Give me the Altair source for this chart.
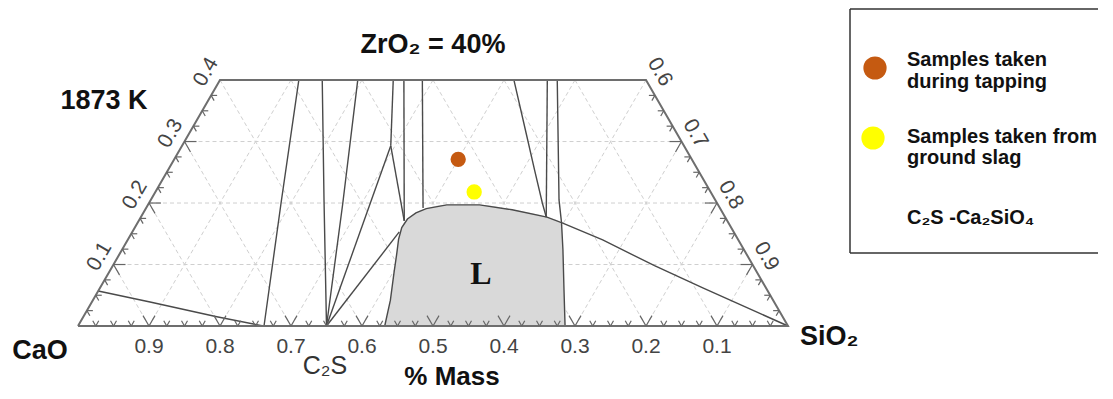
import altair as alt
import numpy as np
import pandas as pd

SQ = np.sqrt(3) / 2

# ---------------- data: phase boundaries as (CaO, ZrO2) mass fractions ----------------
b1_cao = [0.943, 0.879, 0.797, 0.739]
b1_zro2 = [0.057, 0.039, 0.015, 0.000]
b2_cao = [0.738, 0.614, 0.489]
b2_zro2 = [0.000, 0.200, 0.400]
b3_cao = [0.650, 0.551, 0.456]
b3_zro2 = [0.000, 0.205, 0.400]
b4_cao = [0.650, 0.527, 0.406]
b4_zro2 = [0.000, 0.200, 0.400]
b5_cao = [0.650, 0.413]
b5_zro2 = [0.000, 0.293]
b6_cao = [0.413, 0.356]
b6_zro2 = [0.293, 0.400]
b7_cao = [0.413, 0.455]
b7_zro2 = [0.293, 0.171]
b8_cao = [0.341, 0.455]
b8_zro2 = [0.400, 0.171]
b9_cao = [0.650, 0.471]
b9_zro2 = [0.000, 0.153]
b10_cao = [0.315, 0.418]
b10_zro2 = [0.400, 0.192]
b11_cao = [0.186, 0.214, 0.230, 0.246, 0.252]
b11_zro2 = [0.400, 0.307, 0.254, 0.200, 0.177]
b12_cao = [0.139, 0.252]
b12_zro2 = [0.400, 0.177]
b13_cao = [0.125, 0.220, 0.235]
b13_zro2 = [0.400, 0.205, 0.168]
tail_cao = [0.235, 0.191, 0.139, 0.089, 0.000]
tail_zro2 = [0.168, 0.140, 0.098, 0.062, 0.000]
liq_cao = [0.568, 0.539, 0.512, 0.492, 0.478, 0.464, 0.449, 0.432, 0.414, 0.382, 0.336,
           0.294, 0.251, 0.235, 0.255, 0.286, 0.314]
liq_zro2 = [0.000, 0.042, 0.086, 0.118, 0.141, 0.160, 0.174, 0.184, 0.191, 0.197, 0.197,
            0.189, 0.177, 0.168, 0.124, 0.059, 0.000]

# samples
sample_names = ["Samples taken during tapping", "Samples taken from ground slag"]
sample_cao = [0.329, 0.333]
sample_zro2 = [0.271, 0.218]
sample_colors = ["#C55A11", "#FFFF00"]

# axis values
base_ticks = [0.9, 0.8, 0.7, 0.6, 0.5, 0.4, 0.3, 0.2, 0.1]
left_ticks = [0.1, 0.2, 0.3, 0.4]
right_ticks = [0.6, 0.7, 0.8, 0.9]
ZMAX = 0.4


def to_xy(cao, zro2):
    c = np.asarray(cao, dtype=float)
    z = np.asarray(zro2, dtype=float)
    return 1 - c - z / 2, z * SQ


# ---------------- build tables ----------------
curves = {
    "b1": (b1_cao, b1_zro2), "b2": (b2_cao, b2_zro2), "b3": (b3_cao, b3_zro2),
    "b4": (b4_cao, b4_zro2), "b5": (b5_cao, b5_zro2), "b6": (b6_cao, b6_zro2),
    "b7": (b7_cao, b7_zro2), "b8": (b8_cao, b8_zro2), "b9": (b9_cao, b9_zro2),
    "b10": (b10_cao, b10_zro2), "b11": (b11_cao, b11_zro2), "b12": (b12_cao, b12_zro2),
    "b13": (b13_cao, b13_zro2), "tail": (tail_cao, tail_zro2), "liq": (liq_cao, liq_zro2),
}
rows = []
for name, (c, z) in curves.items():
    X, Y = to_xy(c, z)
    for i, (x, y) in enumerate(zip(X, Y)):
        rows.append({"id": name, "i": i, "X": x, "Y": y})
lines_df = pd.DataFrame(rows)

lx, ly = to_xy(liq_cao, liq_zro2)
area_df = pd.DataFrame({"X": lx, "Y": ly, "Y0": 0.0})

oc, oz = [1.0, 0.0, 0.0, 1 - ZMAX, 1.0], [0.0, 0.0, ZMAX, ZMAX, 0.0]
ox, oy = to_xy(oc, oz)
outline_df = pd.DataFrame({"X": ox, "Y": oy, "i": range(len(ox))})

# grid
g = []
for k in range(1, 10):
    v = k / 10
    if v < ZMAX:
        g.append((v / 2, v * SQ, 1 - v / 2, v * SQ))
    zt = min(ZMAX, 1 - v)
    g.append((1 - v, 0, 1 - v - zt / 2, zt * SQ))   # constant CaO
    g.append((v, 0, v + zt / 2, zt * SQ))           # constant SiO2
grid_df = pd.DataFrame(g, columns=["X", "Y", "X2", "Y2"])

# ticks
t = []
for k in range(1, 40):
    v = k * 0.025
    major = abs(v * 10 - round(v * 10)) < 1e-6
    L = (12 if major else 6) / 710
    bx = 1 - v
    t.append((bx, 0, bx - 0.5 * L, SQ * L))
    t.append((bx, 0, bx + 0.5 * L, SQ * L))
    if v < ZMAX - 1e-9:
        px, py = v / 2, v * SQ
        t.append((px, py, px + L, py))
        t.append((px, py, px + 0.5 * L, py - SQ * L))
        px, py = 1 - v / 2, v * SQ
        t.append((px, py, px - L, py))
        t.append((px, py, px - 0.5 * L, py - SQ * L))
ticks_df = pd.DataFrame(t, columns=["X", "Y", "X2", "Y2"])

base_df = pd.DataFrame({"X": [1 - v for v in base_ticks], "Y": 0.0,
                        "t": [f"{v:.1f}" for v in base_ticks]})
off = 16 / 710
left_df = pd.DataFrame({"X": [v / 2 - 0.866 * off for v in left_ticks],
                        "Y": [v * SQ + 0.5 * off for v in left_ticks],
                        "t": [f"{v:.1f}" for v in left_ticks]})
right_df = pd.DataFrame({"X": [(1 + s) / 2 + 0.866 * off for s in right_ticks],
                         "Y": [(1 - s) * SQ + 0.5 * off for s in right_ticks],
                         "t": [f"{v:.1f}" for v in right_ticks]})

sx, sy = to_xy(sample_cao, sample_zro2)
samples_df = pd.DataFrame({"X": sx, "Y": sy, "name": sample_names})

# ---------------- scales ----------------
W, H = 1097, 383
X_MIN = -70 / 710
X_MAX = X_MIN + W / 710
Y_MAX = 318 / 710
Y_MIN = Y_MAX - H / 710
xs = alt.Scale(domain=[X_MIN, X_MAX], nice=False, zero=False)
ys = alt.Scale(domain=[Y_MIN, Y_MAX], nice=False, zero=False)
ex = alt.X("X:Q", scale=xs, axis=None)
ey = alt.Y("Y:Q", scale=ys, axis=None)

FONT = "Liberation Sans"

grid = alt.Chart(grid_df).mark_rule(color="#cfcfcf", strokeWidth=1, strokeDash=[4, 3]).encode(
    x=ex, y=ey, x2="X2:Q", y2="Y2:Q")
area = alt.Chart(area_df).mark_area(color="#d9d9d9", opacity=1, interpolate="monotone").encode(
    x=ex, y=ey, y2="Y0:Q")
lines = alt.Chart(lines_df).mark_line(color="#4a4a4a", strokeWidth=1.4).encode(
    x=ex, y=ey, detail="id:N", order="i:Q")
outline = alt.Chart(outline_df).mark_line(color="#6e6e6e", strokeWidth=2).encode(
    x=ex, y=ey, order="i:Q")
ticks = alt.Chart(ticks_df).mark_rule(color="#666666", strokeWidth=1.2).encode(
    x=ex, y=ey, x2="X2:Q", y2="Y2:Q")
base_lbl = alt.Chart(base_df).mark_text(dy=21, fontSize=21, color="#444444", font=FONT).encode(
    x=ex, y=ey, text="t:N")
left_lbl = alt.Chart(left_df).mark_text(fontSize=21, color="#444444", font=FONT, angle=300).encode(
    x=ex, y=ey, text="t:N")
right_lbl = alt.Chart(right_df).mark_text(fontSize=21, color="#444444", font=FONT, angle=60).encode(
    x=ex, y=ey, text="t:N")
pts = alt.Chart(samples_df).mark_circle(size=235, opacity=1).encode(
    x=ex, y=ey,
    color=alt.Color("name:N", scale=alt.Scale(domain=sample_names, range=sample_colors), legend=None))

one = pd.DataFrame({"a": [0]})


def label(text, x, y, size=27, weight="bold", align="center", color="#111111", font=FONT, baseline="middle"):
    return alt.Chart(one).mark_text(
        text=text, fontSize=size, fontWeight=weight, align=align, color=color, font=font,
        baseline=baseline).encode(x=alt.value(x), y=alt.value(y))


texts = [
    label("ZrO₂ = 40%", 425, 37),
    label("1873 K", 96, 93),
    label("CaO", 32, 343),
    label("SiO₂", 792, 329, align="left"),
    label("% Mass", 444, 369, size=26),
    label("C₂S", 317, 358, size=25, weight="normal", color="#333333"),
    label("L", 473, 266, size=32, font="Liberation Serif"),
]

# legend box: only top, left and bottom sides are visible in the reference
leg_items = []
leg_items.append(alt.Chart(one).mark_rule(color="#333333", strokeWidth=1.5).encode(
    x=alt.value(842), x2=alt.value(1090), y=alt.value(1), y2=alt.value(1)))
leg_items.append(alt.Chart(one).mark_rule(color="#333333", strokeWidth=1.5).encode(
    x=alt.value(842), x2=alt.value(1090), y=alt.value(245), y2=alt.value(245)))
leg_items.append(alt.Chart(one).mark_rule(color="#333333", strokeWidth=1.5).encode(
    x=alt.value(842), x2=alt.value(842), y=alt.value(1), y2=alt.value(245)))
leg_df = pd.DataFrame({"name": sample_names, "px": [867, 865], "py": [60, 130]})
leg_items.append(alt.Chart(leg_df).mark_circle(size=540, opacity=1).encode(
    x=alt.X("px:Q", scale=None), y=alt.Y("py:Q", scale=None),
    color=alt.Color("name:N", scale=alt.Scale(domain=sample_names, range=sample_colors), legend=None)))
leg_items += [
    label("Samples taken", 899, 58, size=20, align="left", baseline="alphabetic"),
    label("during tapping", 899, 80, size=20, align="left", baseline="alphabetic"),
    label("Samples taken from", 899, 135, size=20, align="left", baseline="alphabetic"),
    label("ground slag", 899, 156, size=20, align="left", baseline="alphabetic"),
    label("C₂S -Ca₂SiO₄", 899, 216, size=20, align="left", baseline="alphabetic"),
]

chart = alt.layer(grid, area, lines, outline, ticks, base_lbl, left_lbl, right_lbl, pts,
                  *texts, *leg_items).properties(
    width=W, height=H, padding=0, autosize=alt.AutoSizeParams(type="none")
).configure_view(stroke=None)

chart.save("out.html", embed_options={"renderer": "svg", "actions": False})
